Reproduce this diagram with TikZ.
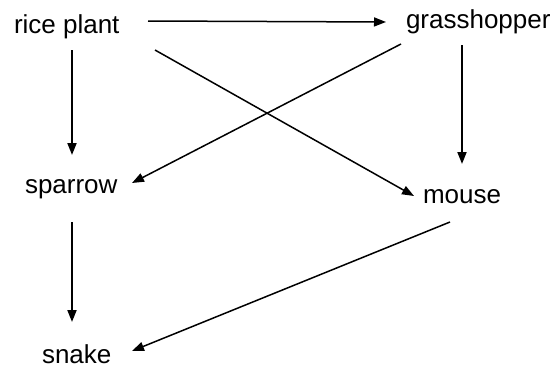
\documentclass[tikz,border=0pt]{standalone}
\usepackage{fontspec}
\setmainfont{Liberation Sans}
\usetikzlibrary{arrows.meta}
\begin{document}
\begin{tikzpicture}[x=1pt,y=1pt,
  lbl/.style={inner sep=0pt,outer sep=0pt,anchor=base west,font=\fontsize{26}{30}\selectfont},
  arr/.style={line width=1.5pt,-{Triangle[length=12pt,width=9pt]}},
  varr/.style={arr,line width=1.9pt}]
\useasboundingbox (0,0) rectangle (556,368);
\node[lbl] (rice) at (14,335) {rice plant};
\node[lbl] (grass) at (406,340) {grasshopper};
\node[lbl] (sparrow) at (25,175) {sparrow};
\node[lbl] (mouse) at (423,165) {mouse};
\node[lbl] (snake) at (42,5) {snake};
\draw[arr] ([shift={(134,12)}]rice.base west) -- ([shift={(-20,6)}]grass.base west);
\draw[varr] ([shift={(58,-17)}]rice.base west) -- ([shift={(47,38)}]sparrow.base west);
\draw[arr] ([shift={(141,-17)}]rice.base west) -- ([shift={(-9,7)}]mouse.base west);
\draw[arr] ([shift={(-5,-16)}]grass.base west) -- ([shift={(107,10)}]sparrow.base west);
\draw[varr] ([shift={(56,-17)}]grass.base west) -- ([shift={(39,39)}]mouse.base west);
\draw[varr] ([shift={(47,-29)}]sparrow.base west) -- ([shift={(30,41)}]snake.base west);
\draw[arr] ([shift={(27,-19)}]mouse.base west) -- ([shift={(90,12)}]snake.base west);
\end{tikzpicture}
\end{document}
